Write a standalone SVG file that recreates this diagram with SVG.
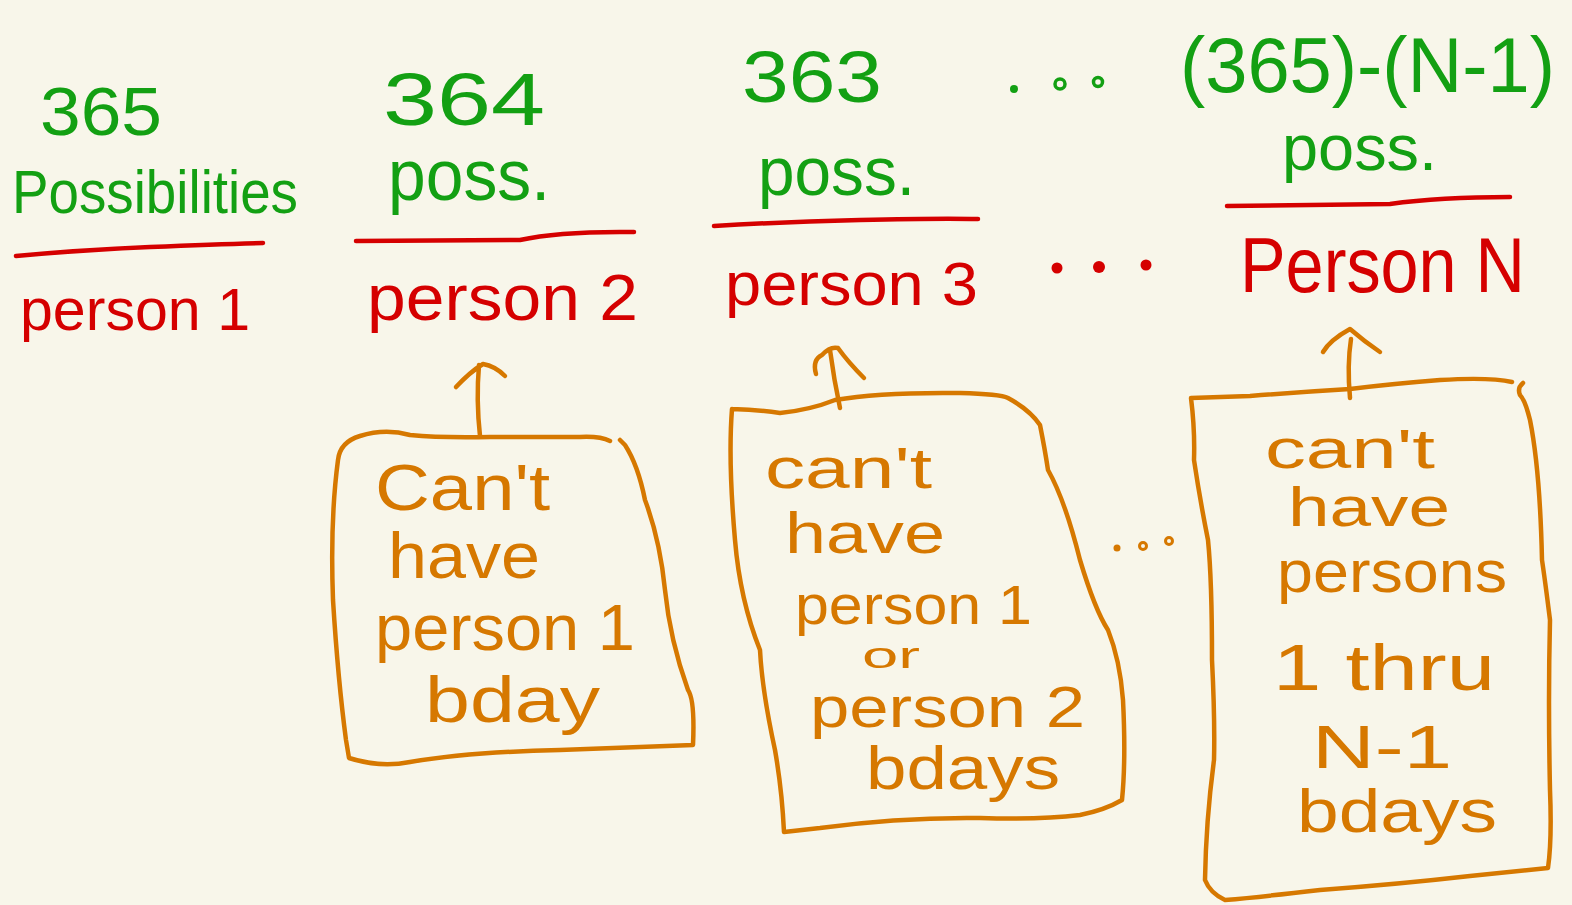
<svg xmlns="http://www.w3.org/2000/svg" width="1572" height="905" viewBox="0 0 1572 905">
<style>
text{font-family:"Liberation Sans","DejaVu Sans",sans-serif;}
.g{fill:#13a013;}
.r{fill:#d50000;}
.o{fill:#d67800;}
.rl{fill:none;stroke:#d50000;stroke-width:4.5;stroke-linecap:round;stroke-linejoin:round;}
.ol{fill:none;stroke:#d67800;stroke-width:4.5;stroke-linecap:round;stroke-linejoin:round;}
</style>
<rect width="1572" height="905" fill="#f8f6ea"/>
<g id="person1">
<text class="g" x="40" y="135" font-size="68" textLength="122" lengthAdjust="spacingAndGlyphs">365</text>
<text class="g" x="12" y="213" font-size="62" textLength="286" lengthAdjust="spacingAndGlyphs">Possibilities</text>
<path class="rl" d="M16 256 Q80 250 150 247 T263 243"/>
<text class="r" x="20" y="330" font-size="60" textLength="230" lengthAdjust="spacingAndGlyphs">person 1</text>
</g>
<g id="person2">
<text class="g" x="383" y="125" font-size="75" textLength="162" lengthAdjust="spacingAndGlyphs">364</text>
<text class="g" x="388" y="200" font-size="72" textLength="162" lengthAdjust="spacingAndGlyphs">poss.</text>
<path class="rl" d="M356 241 L520 240 Q560 231 634 232"/>
<text class="r" x="367" y="320" font-size="64" textLength="271" lengthAdjust="spacingAndGlyphs">person 2</text>
</g>
<g id="person3">
<text class="g" x="742" y="102" font-size="72" textLength="140" lengthAdjust="spacingAndGlyphs">363</text>
<text class="g" x="758" y="195" font-size="68" textLength="157" lengthAdjust="spacingAndGlyphs">poss.</text>
<path class="rl" d="M714 226 Q780 222 860 220 T978 219"/>
<text class="r" x="725" y="305" font-size="62" textLength="253" lengthAdjust="spacingAndGlyphs">person 3</text>
</g>
<g id="personN">
<text class="g" x="1180" y="92" font-size="78" textLength="375" lengthAdjust="spacingAndGlyphs">(365)-(N-1)</text>
<text class="g" x="1282" y="170" font-size="64" textLength="155" lengthAdjust="spacingAndGlyphs">poss.</text>
<path class="rl" d="M1227 206 L1390 204 Q1440 197 1510 197"/>
<text class="r" x="1240" y="292" font-size="78" textLength="285" lengthAdjust="spacingAndGlyphs">Person N</text>
</g>
<g id="ellipses">
<circle cx="1014" cy="89" r="4" fill="#13a013"/>
<circle cx="1060" cy="84" r="5" fill="none" stroke="#13a013" stroke-width="3.5"/>
<circle cx="1098" cy="82" r="4.5" fill="none" stroke="#13a013" stroke-width="3.5"/>
<circle cx="1057" cy="268" r="5.5" fill="#d50000"/>
<circle cx="1099" cy="267" r="6" fill="#d50000"/>
<circle cx="1146" cy="265" r="5.5" fill="#d50000"/>
<circle cx="1117" cy="548" r="3.5" fill="#d67800"/>
<circle cx="1143" cy="546" r="3.5" fill="none" stroke="#d67800" stroke-width="3"/>
<circle cx="1169" cy="541" r="3.5" fill="none" stroke="#d67800" stroke-width="3"/>
</g>
<g id="box1">
<path class="ol" d="M610 441 Q600 436 580 437 L490 437 Q440 438 410 435 Q385 428 360 436 Q340 442 338 460 Q330 520 333 600 Q338 680 346 740 L349 758 Q380 768 410 762 Q470 752 560 750 L693 745 Q695 700 688 690 Q670 640 665 590 Q660 540 645 500 Q638 465 625 445 L620 440"/>
<text class="o" x="375" y="510" font-size="64" textLength="175" lengthAdjust="spacingAndGlyphs">Can't</text>
<text class="o" x="388" y="578" font-size="64" textLength="152" lengthAdjust="spacingAndGlyphs">have</text>
<text class="o" x="375" y="650" font-size="64" textLength="260" lengthAdjust="spacingAndGlyphs">person 1</text>
<text class="o" x="425" y="722" font-size="64" textLength="175" lengthAdjust="spacingAndGlyphs">bday</text>
</g>
<g id="box2">
<path class="ol" d="M732 409 Q760 410 780 413 Q810 410 835 400 Q880 392 960 393 Q1000 394 1008 398 Q1030 410 1040 425 Q1045 450 1048 470 Q1065 500 1080 560 Q1095 610 1108 630 Q1120 660 1123 700 Q1126 760 1122 800 Q1105 810 1080 815 Q1040 820 980 818 Q900 817 820 828 L784 832 Q782 790 775 750 Q762 690 760 650 Q740 600 735 540 Q728 460 732 409"/>
<text class="o" x="765" y="488" font-size="58" textLength="167" lengthAdjust="spacingAndGlyphs">can't</text>
<text class="o" x="785" y="553" font-size="58" textLength="160" lengthAdjust="spacingAndGlyphs">have</text>
<text class="o" x="795" y="624" font-size="56" textLength="237" lengthAdjust="spacingAndGlyphs">person 1</text>
<text class="o" x="862" y="668" font-size="36" textLength="58" lengthAdjust="spacingAndGlyphs">or</text>
<text class="o" x="810" y="727" font-size="58" textLength="275" lengthAdjust="spacingAndGlyphs">person 2</text>
<text class="o" x="866" y="789" font-size="62" textLength="194" lengthAdjust="spacingAndGlyphs">bdays</text>
</g>
<g id="box3">
<path class="ol" d="M1512 382 Q1490 377 1440 380 Q1390 384 1350 389 Q1300 392 1250 396 Q1220 397 1191 398 Q1195 430 1194 460 Q1200 500 1208 540 Q1212 580 1212 660 Q1215 720 1214 760 Q1206 820 1205 880 Q1210 893 1225 900 Q1260 897 1320 890 Q1400 884 1470 876 L1548 868 Q1552 840 1550 790 Q1548 700 1550 620 Q1545 580 1542 560 Q1540 470 1530 420 Q1525 400 1520 395 Q1517 388 1523 383"/>
<text class="o" x="1265" y="468" font-size="56" textLength="170" lengthAdjust="spacingAndGlyphs">can't</text>
<text class="o" x="1288" y="526" font-size="56" textLength="162" lengthAdjust="spacingAndGlyphs">have</text>
<text class="o" x="1277" y="592" font-size="60" textLength="230" lengthAdjust="spacingAndGlyphs">persons</text>
<text class="o" x="1273" y="690" font-size="64" textLength="222" lengthAdjust="spacingAndGlyphs">1 thru</text>
<text class="o" x="1312" y="768" font-size="62" textLength="140" lengthAdjust="spacingAndGlyphs">N-1</text>
<text class="o" x="1297" y="832" font-size="62" textLength="200" lengthAdjust="spacingAndGlyphs">bdays</text>
</g>
<g id="connectors">
<path class="ol" d="M480 436 Q476 400 479 365 M456 387 Q470 372 483 364 Q495 366 505 376"/>
<path class="ol" d="M840 408 Q834 380 830 350 M816 374 Q812 360 822 355 Q830 346 838 348 Q848 362 864 378"/>
<path class="ol" d="M1350 398 Q1347 365 1351 339 M1323 352 Q1330 340 1350 329 Q1365 342 1380 352"/>
</g>
</svg>
